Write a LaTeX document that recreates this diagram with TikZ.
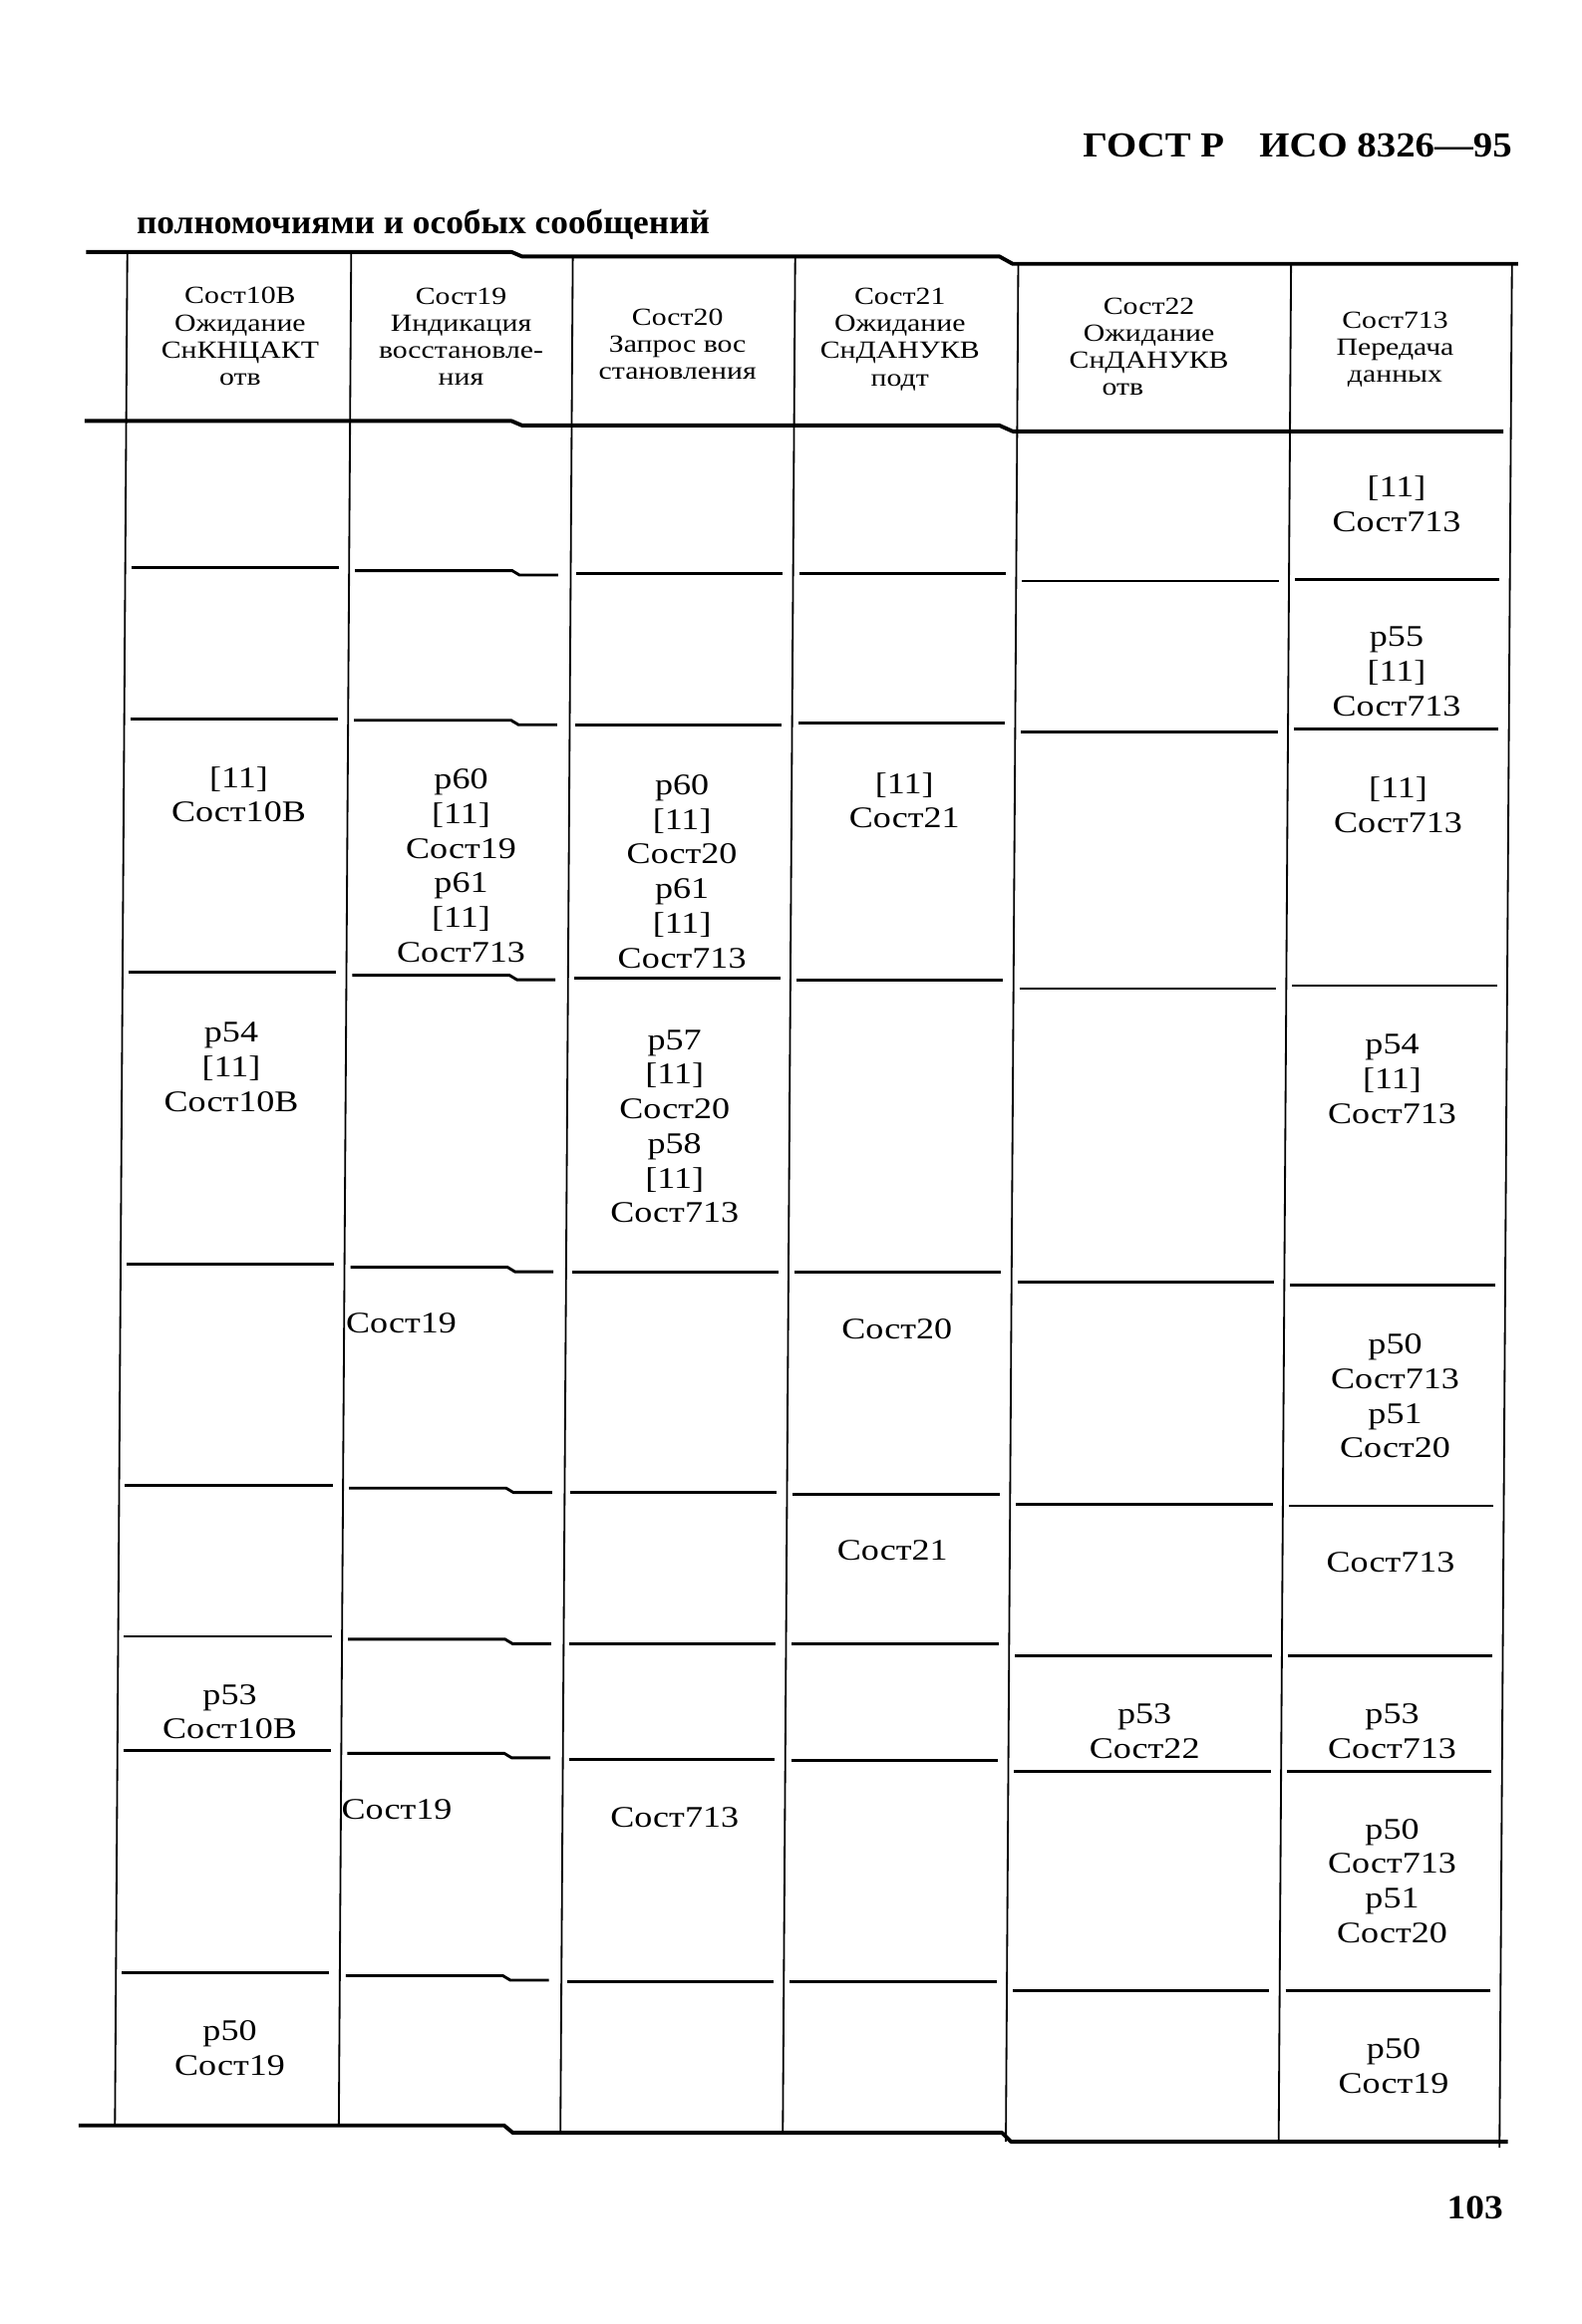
\documentclass[tikz,border=0pt]{standalone}
\usepackage{fontspec}
\setmainfont{Liberation Serif}
\newfontfamily\tabfont[FakeStretch=1.2]{Liberation Serif}
\newfontfamily\titlefont[FakeStretch=1.1]{Liberation Serif}
\newfontfamily\captionfont[FakeStretch=1.04]{Liberation Serif}

\begin{document}
\begin{tikzpicture}[x=0.02cm, y=-0.02cm,
        thick rule/.style={line width=1.5pt, line join=round},
        row rule/.style={line width=1.1pt},
        col rule/.style={line width=0.7pt},
        hd/.style={align=center, inner sep=0pt, font=\tabfont\fontsize{9.5}{10.4}\selectfont},
        cell/.style={align=center, inner sep=0pt, font=\tabfont\fontsize{11.5}{13.3}\selectfont}]
        \fill[white] (0,0) rectangle (1067,1568);
        \useasboundingbox (0,0) rectangle (1067,1568);
        \node[anchor=base east, font=\titlefont\bfseries\fontsize{13.5}{15}\selectfont] (gost) at (1026,106) {ГОСТ\ Р\quad ИСО\ 8326—95};
        \node[anchor=base west, font=\captionfont\bfseries\fontsize{13}{15}\selectfont] (caption) at (86,158) {полномочиями и особых сообщений};
        \node[anchor=base east, font=\titlefont\bfseries\fontsize{13}{15}\selectfont] (page) at (1020,1497) {103};
        \draw[thick rule] (58,170) -- (345,170) -- (352,173) -- (674,173) -- (683,178) -- (1024,178);
        \draw[thick rule] (57,284) -- (345,284) -- (352,287) -- (674,287) -- (683,291) -- (1014,291);
        \draw[thick rule] (53,1434) -- (340,1434) -- (346,1439) -- (676,1439) -- (682,1445) -- (1017,1445);
        \begin{scope}[xslant=0.0066]
                \foreach \bx/\ty/\by in {87/171/1434, 238/171/1434, 387.5/174/1439, 537.5/174/1439, 688/178/1445, 872/178/1445, 1021/178/1449}
                \draw[col rule] (\bx,\ty) -- (\bx,\by);
                \foreach \xl/\xr/\ys in {87/238/{383,485,656,853,1002,1104,1181,1331}, 387.5/537.5/{387,489,660,858,1007,1109,1187,1337}, 537.5/688/{387,488,661,858,1008,1109,1188,1337}, 688/872/{392,494,667,865,1015,1117,1195,1343}, 872/1021/{391,492,665,867,1016,1117,1195,1343}}
                \foreach \y in \ys
                \draw[row rule] (\xl+4,\y) -- (\xr-7,\y);
                \foreach \y in {385,486,658,855,1004,1106,1183,1333}
                \draw[row rule] (242,\y) -- (348,\y) -- (353,\y+3) -- (379,\y+3);
        \end{scope}
        \node[hd] (hd10B) at (162,227) {Сост10В\\Ожидание\\СнКНЦАКТ\\отв};
        \node[hd] (hd19) at (311,227) {Сост19\\Индикация\\восстановле-\\ния};
        \node[hd] (hd20) at (457,232) {Сост20\\Запрос вос\\становления};
        \node[hd] (hd21) at (607,229) {Сост21\\Ожидание\\СнДАНУКВ\\подт};
        \node[hd] (hd22) at (775,234) {Сост22\\Ожидание\\СнДАНУКВ\\\hspace*{-20pt}отв};
        \node[hd] (hd713) at (941,236) {Сост713\\Передача\\данных};
        \node[cell] (r1c6) at (942,340) {{[11]}\\Сост713};
        \node[cell] (r2c6) at (942,453) {p55\\{[11]}\\Сост713};
        \node[cell] (r3c1) at (161,536) {{[11]}\\Сост10В};
        \node[cell] (r3c2) at (311,584) {p60\\{[11]}\\Сост19\\p61\\{[11]}\\Сост713};
        \node[cell] (r3c3) at (460,588) {p60\\{[11]}\\Сост20\\p61\\{[11]}\\Сост713};
        \node[cell] (r3c4) at (610,540) {{[11]}\\Сост21};
        \node[cell] (r3c6) at (943,543) {{[11]}\\Сост713};
        \node[cell] (r4c1) at (156,720) {p54\\{[11]}\\Сост10В};
        \node[cell] (r4c3) at (455,760) {p57\\{[11]}\\Сост20\\p58\\{[11]}\\Сост713};
        \node[cell] (r4c6) at (939,728) {p54\\{[11]}\\Сост713};
        \node[cell, anchor=west] (r5c2) at (233,893) {Сост19};
        \node[cell] (r5c4) at (605,897) {Сост20};
        \node[cell] (r5c6) at (941,942) {p50\\Сост713\\p51\\Сост20};
        \node[cell] (r6c4) at (602,1046) {Сост21};
        \node[cell] (r6c6) at (938,1054) {Сост713};
        \node[cell] (r7c1) at (155,1155) {p53\\Сост10В};
        \node[cell] (r7c5) at (772,1168) {p53\\Сост22};
        \node[cell] (r7c6) at (939,1168) {p53\\Сост713};
        \node[cell, anchor=west] (r8c2) at (230,1221) {Сост19};
        \node[cell] (r8c3) at (455,1226) {Сост713};
        \node[cell] (r8c6) at (939,1269) {p50\\Сост713\\p51\\Сост20};
        \node[cell] (r9c1) at (155,1382) {p50\\Сост19};
        \node[cell] (r9c6) at (940,1394) {p50\\Сост19};
\end{tikzpicture}
\end{document}
